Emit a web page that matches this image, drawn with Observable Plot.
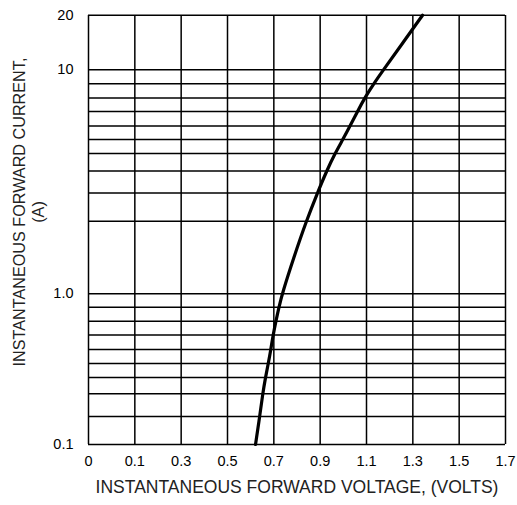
<!DOCTYPE html>
<html><head><meta charset="utf-8">
<script src="https://cdn.jsdelivr.net/npm/d3@7"></script>
<script src="https://cdn.jsdelivr.net/npm/@observablehq/plot@0.6"></script>
<style>
body{margin:0;background:#fff;}
svg{font-family:"Liberation Sans",Arial,Helvetica,sans-serif;}
</style>
</head><body><div id="chart"></div>
<script>
// Forward characteristic: current (A) vs voltage (V)
const currentA = [0.1, 0.2, 0.3, 0.4, 0.5, 0.6, 0.7, 0.8, 0.9, 1.0, 1.25, 1.5, 2, 3, 4, 5, 6, 7, 8, 9, 10, 15, 20];
const voltageV = [0.621, 0.639, 0.652, 0.664, 0.676, 0.687, 0.697, 0.709, 0.722, 0.736, 0.786, 0.840, 0.888, 0.928, 0.964, 0.998, 1.029, 1.061, 1.092, 1.131, 1.173, 1.258, 1.342];

// X axis (evenly spaced verticals; first one labelled "0")
const xTickValues = [-0.1, 0.1, 0.3, 0.5, 0.7, 0.9, 1.1, 1.3, 1.5, 1.7];
const xTickLabels = ["0", "0.1", "0.3", "0.5", "0.7", "0.9", "1.1", "1.3", "1.5", "1.7"];

// Y grid (chart's own non-uniform graph-paper scale)
const yGridValues = [0.1, 0.2, 0.3, 0.4, 0.5, 0.6, 0.7, 0.8, 0.9, 1.0, 1.5, 2, 3, 4, 5, 6, 7, 8, 9, 10, 20];
const yTickValues = [0.1, 1, 10, 20];
const yTickLabels = ["0.1", "1.0", "10", "20"];

const xTitle = "INSTANTANEOUS FORWARD VOLTAGE, (VOLTS)";
const yTitle1 = "INSTANTANEOUS FORWARD CURRENT,";
const yTitle2 = "(A)";

const curve = currentA.map((c, i) => ({i: c, v: voltageV[i]}));

const chart = Plot.plot({
  width: 517,
  height: 505,
  marginLeft: 88,
  marginRight: 12,
  marginTop: 15,
  marginBottom: 61,
  style: {fontFamily: '"Liberation Sans", Arial, sans-serif', color: "#000", background: "#fff"},
  x: {domain: [-0.1, 1.7]},
  y: {
    type: "linear",
    domain: yGridValues,
    range: [444, 416, 393.3, 377, 363, 349, 334.5, 320.7, 306.7, 293.3, 220.7, 192.5, 170.5, 153, 139, 125.5, 111, 97.5, 83.3, 69.3, 14.7]
  },
  marks: [
    Plot.ruleY(yGridValues, {stroke: "#000", strokeWidth: 1.5}),
    Plot.ruleX(xTickValues, {stroke: "#000", strokeWidth: 1.5}),
    Plot.line(curve, {x: "v", y: "i", stroke: "#000", strokeWidth: 3.2, curve: "basis"}),
    Plot.axisX(xTickValues, {
      tickSize: 0, tickPadding: 11, fontSize: 14.5, label: null,
      tickFormat: d => xTickLabels[xTickValues.indexOf(d)]
    }),
    Plot.axisY(yTickValues, {
      tickSize: 0, tickPadding: 15, fontSize: 14.5, label: null,
      tickFormat: d => yTickLabels[yTickValues.indexOf(d)]
    }),
    Plot.text([xTitle], {frameAnchor: "bottom", dy: 48, fontSize: 17.5, fill: "#222", textAnchor: "middle"}),
    Plot.text([yTitle1], {frameAnchor: "left", dx: -69, dy: -18, rotate: -90, fontSize: 16.2, fill: "#222", textAnchor: "middle"}),
    Plot.text([yTitle2], {frameAnchor: "left", dx: -50, dy: -18, rotate: -90, fontSize: 16.2, fill: "#222", textAnchor: "middle"})
  ]
});
document.getElementById("chart").appendChild(chart);
</script>
</body></html>
